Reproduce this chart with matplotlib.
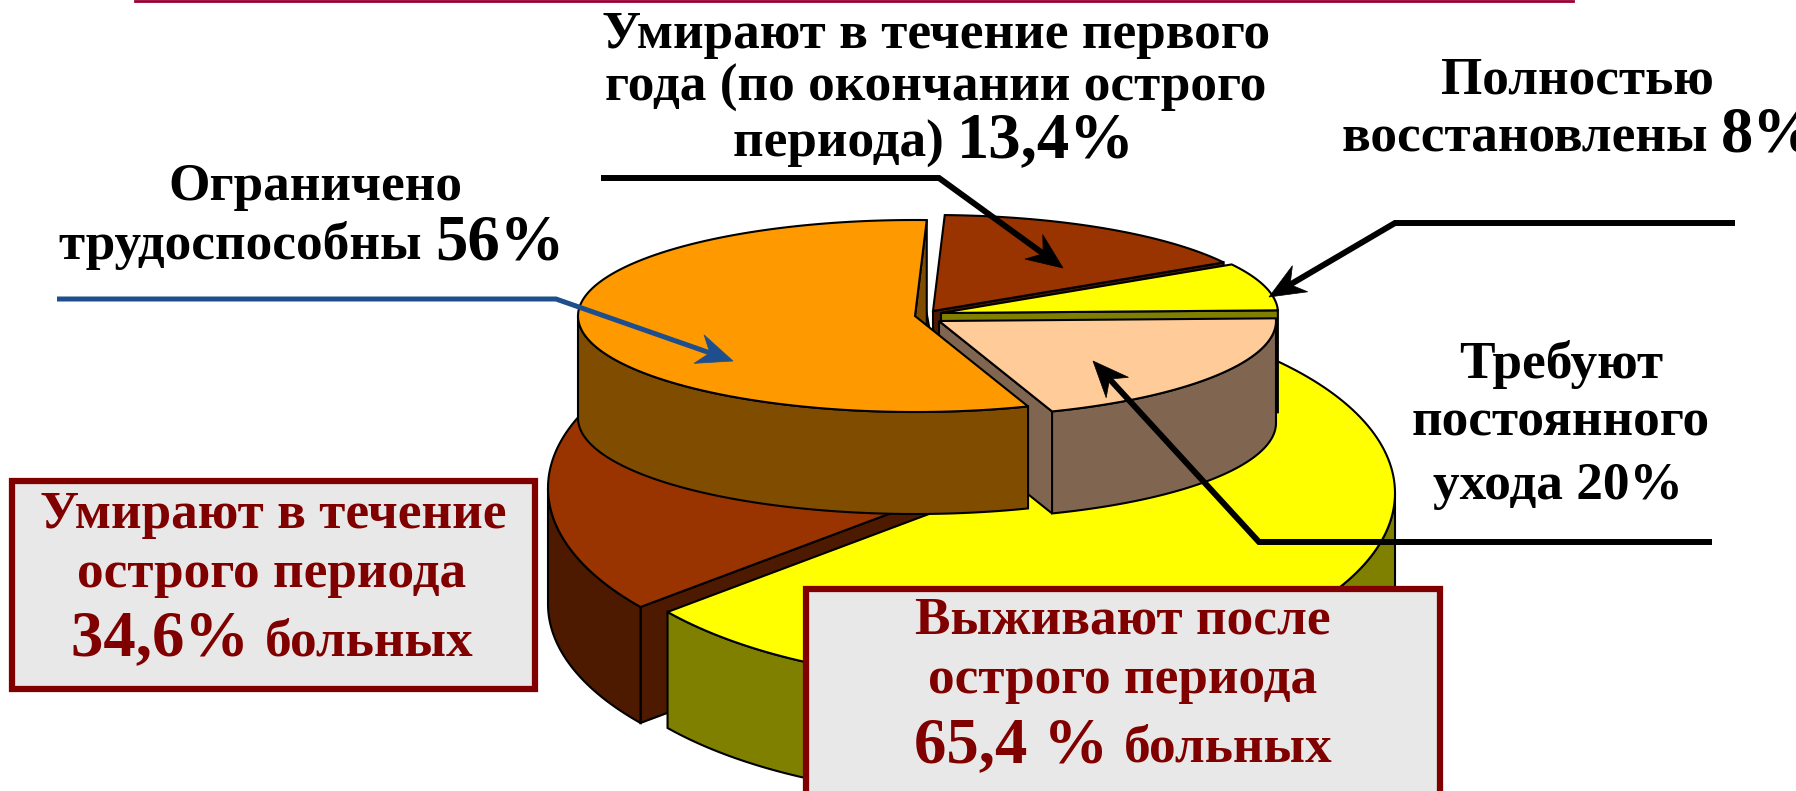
import numpy as np
import matplotlib
matplotlib.use("Agg")
from matplotlib import pyplot as plt
from matplotlib.patches import Polygon, Rectangle

# lower pie, shares in percent
lower_names = ["Умирают в течение острого периода", "Выживают после острого периода"]
lower_values = [34.6, 65.4]
lower_tops = ["#993300", "#FFFF00"]
lower_walls = ["#4D1A00", "#808000"]

# upper pie, going round from the orange slice
# the dark red slice is labelled 13,4 but is drawn at about 16
upper_names = ["Ограничено трудоспособны", "Требуют постоянного ухода", "Полностью восстановлены", "Умирают в течение первого года"]
upper_values = [56, 20, 8, 16]
upper_tops = ["#FF9900", "#FFCC99", "#FFFF00", "#993300"]
upper_walls = ["#804D00", "#806650", "#808000", "#4D1A00"]

W, H = 1796, 791
FONT = "Liberation Serif"
SIZE = 38.3
BIG = 46.5
RED = "#800000"
EDGE = 1.5

fig = plt.figure(figsize=(W / 100, H / 100), dpi=100)
ax = fig.add_axes([0, 0, 1, 1])
ax.set_xlim(0, W)
ax.set_ylim(H, 0)
ax.axis("off")
renderer = fig.canvas.get_renderer()


def rim(c, rx, ry, a0, a1):
    t = np.radians(np.linspace(a0, a1, 180))
    return np.column_stack([c[0] + rx * np.cos(t), c[1] - ry * np.sin(t)])


def draw_slice(c, rx, ry, h, a0, a1, top, wall):
    edge = rim(c, rx, ry, a0, a1)
    # cut faces, only those that look towards the viewer
    for p, normal in ((edge[0], a0 - 90), (edge[-1], a1 + 90)):
        if np.sin(np.radians(normal)) < 0:
            face = [c, p, p + [0, h], np.array(c) + [0, h]]
            ax.add_patch(Polygon(face, fc=wall, ec="black", lw=EDGE))
    for lo, hi in ((a0, a1), (a0 - 360, a1 - 360), (a0 + 360, a1 + 360)):
        lo, hi = max(lo, 180), min(hi, 360)
        if hi > lo:
            arc = rim(c, rx, ry, lo, hi)
            ax.add_patch(Polygon(np.vstack([arc, arc[::-1] + [0, h]]), fc=wall, ec="black", lw=EDGE))
    ax.add_patch(Polygon(np.vstack([c, edge]), fc=top, ec="black", lw=EDGE))


def slice_angles(values, start):
    ends = start + np.cumsum(values) * 3.6
    return np.column_stack([ends - np.array(values) * 3.6, ends])


# lower pie: brown then yellow
lower_angles = slice_angles(lower_values, 94.7)
lower_centers = [(958, 488), (985, 493)]
for i in range(2):
    draw_slice(lower_centers[i], 410, 188, 116, *lower_angles[i], lower_tops[i], lower_walls[i])

# upper pie: back slices first
upper_angles = slice_angles(upper_values, 88)
upper_centers = [(915, 316), (939, 321), (941, 313), (933, 311)]
for i in [3, 2, 1, 0]:
    draw_slice(upper_centers[i], 337, 96, 102, *upper_angles[i], upper_tops[i], upper_walls[i])


def leader(pts, color, lw=4.3, head=36):
    pts = np.array(pts, dtype=float)
    d = pts[-1] - pts[-2]
    d = d / np.hypot(*d)
    n = np.array([-d[1], d[0]])
    tip = pts[-1]
    neck = tip - d * head * 0.68
    line = np.vstack([pts[:-1], neck])
    ax.plot(line[:, 0], line[:, 1], color=color, lw=lw, solid_joinstyle="miter", solid_capstyle="butt", zorder=5)
    wing = tip - d * head
    arrow = [tip, wing + n * head * 0.42, neck, wing - n * head * 0.42]
    ax.add_patch(Polygon(arrow, fc=color, ec=color, lw=0.5, zorder=5))


leader([(57, 299), (556, 299), (733, 361)], "#1F4E8C", lw=3.6)
leader([(601, 178), (939, 178), (1063, 268)], "black")
leader([(1735, 223), (1395, 223), (1269, 297)], "black")
leader([(1712, 542), (1259, 542), (1093, 361)], "black")

# top rule, cut by the picture edge
ax.plot([135, 1573], [0.5, 0.5], color="#990033", lw=2, zorder=5)

# boxes
ax.add_patch(Rectangle((11.5, 481), 523, 208, fc="#E8E8E8", ec=RED, lw=4.5, zorder=6))
ax.add_patch(Rectangle((806, 589), 634, 240, fc="#E8E8E8", ec=RED, lw=4.5, zorder=6))


def text_line(x, y, runs, color="black", align="center"):
    parts = []
    for s, size in runs:
        parts.append(ax.text(0, y, s, fontsize=size, family=FONT, weight="bold", color=color, va="baseline", ha="left", zorder=7))
    widths = [p.get_window_extent(renderer).width for p in parts]
    left = x - sum(widths) / 2 if align == "center" else x
    for p, w in zip(parts, widths):
        p.set_x(left)
        left += w


text_line(936, 48, [("Умирают в течение первого", SIZE)])
text_line(936, 101, [("года (по окончании острого", SIZE)])
text_line(934, 157, [("периода) ", SIZE), ("13,4%", BIG)])
text_line(1577, 93, [("Полностью", SIZE)])
text_line(1342, 152, [("восстановлены ", SIZE), ("8%", BIG)], align="left")
text_line(315, 200, [("Ограничено", SIZE)])
text_line(312, 259, [("трудоспособны ", SIZE), ("56%", BIG)])
text_line(1561, 378, [("Требуют", SIZE)])
text_line(1561, 436, [("постоянного", SIZE)])
text_line(1558, 499, [("ухода 20%", SIZE)])
text_line(273, 528, [("Умирают в течение", SIZE)], RED)
text_line(272, 587, [("острого периода", SIZE)], RED)
text_line(272, 655, [("34,6% ", BIG), ("больных", SIZE)], RED)
text_line(1123, 634, [("Выживают после", SIZE)], RED)
text_line(1123, 693, [("острого периода", SIZE)], RED)
text_line(1123, 762, [("65,4 % ", BIG), ("больных", SIZE)], RED)

fig.savefig("out.png", dpi=100)
